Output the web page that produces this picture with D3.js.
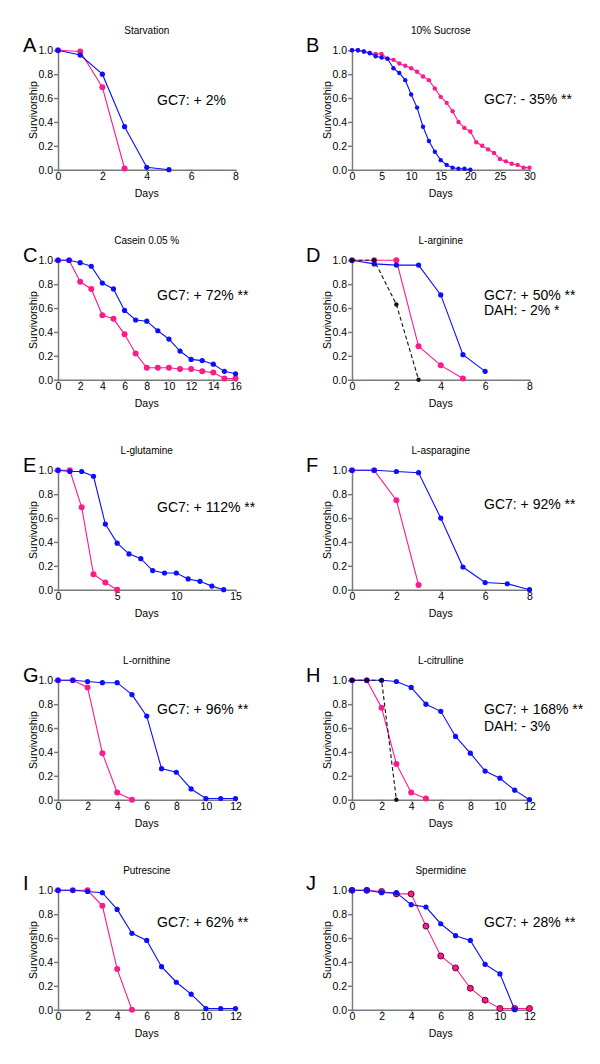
<!DOCTYPE html>
<html><head><meta charset="utf-8">
<script src="https://cdn.jsdelivr.net/npm/d3@7"></script>
<style>
body{margin:0;background:#fff;}
svg{display:block;font-family:Arial,"Liberation Sans",sans-serif;}
</style></head>
<body><svg id="c" width="600" height="1064"></svg>
<script>
// ---- data (survivorship per day, index = day) ----
const letters = ["A","B","C","D","E","F","G","H","I","J"];
const titles = ["Starvation","10% Sucrose","Casein 0.05 %","L-arginine","L-glutamine","L-asparagine","L-ornithine","L-citrulline","Putrescine","Spermidine"];
const xMax = [8,30,16,8,15,8,12,12,12,12];
const xTicks = [
  [0,2,4,6,8],[0,5,10,15,20,25,30],[0,2,4,6,8,10,12,14,16],[0,2,4,6,8],
  [0,5,10,15],[0,2,4,6,8],[0,2,4,6,8,10,12],[0,2,4,6,8,10,12],
  [0,2,4,6,8,10,12],[0,2,4,6,8,10,12]
];
const yTicks = [0,0.2,0.4,0.6,0.8,1.0];
const annotations = [
  ["GC7: + 2%"],["GC7: - 35% **"],["GC7: + 72% **"],["GC7: + 50% **","DAH: - 2% *"],
  ["GC7: + 112% **"],["GC7: + 92% **"],["GC7: + 96% **"],["GC7: + 168% **","DAH: - 3%"],
  ["GC7: + 62% **"],["GC7: + 28% **"]
];

const aPink = [1.0,0.99,0.69,0.01];
const aBlue = [1.0,0.96,0.80,0.36,0.02,0.0];

const bPink = [1.0,1.0,0.99,0.98,0.97,0.97,0.93,0.92,0.89,0.87,0.85,0.82,0.78,0.75,0.68,0.61,0.56,0.49,0.40,0.35,0.32,0.23,0.20,0.17,0.14,0.09,0.07,0.05,0.04,0.017,0.017];
const bBlue = [1.0,1.0,0.99,0.975,0.95,0.94,0.93,0.85,0.81,0.75,0.63,0.52,0.36,0.24,0.15,0.08,0.04,0.017,0.008,0.008,0.0];

const cPink = [1.0,1.0,0.82,0.76,0.54,0.51,0.38,0.22,0.10,0.10,0.10,0.09,0.09,0.07,0.06,0.01,0.01];
const cBlue = [1.0,1.0,0.98,0.95,0.81,0.76,0.58,0.50,0.49,0.41,0.34,0.24,0.17,0.16,0.13,0.07,0.05];

const dPink = [1.0,1.0,1.0,0.28,0.12,0.01];
const dBlue = [1.0,0.97,0.96,0.96,0.71,0.21,0.07];
const dBlack = [1.0,1.0,0.63,0.0];

const ePink = [1.0,1.0,0.69,0.13,0.06,0.0];
const eBlue = [1.0,0.99,0.99,0.95,0.55,0.39,0.30,0.26,0.16,0.14,0.14,0.09,0.07,0.03,0.0];

const fPink = [1.0,1.0,0.75,0.04];
const fBlue = [1.0,1.0,0.99,0.98,0.60,0.19,0.06,0.05,0.0];

const gPink = [1.0,1.0,0.94,0.39,0.06,0.0];
const gBlue = [1.0,1.0,0.99,0.98,0.98,0.88,0.70,0.26,0.23,0.09,0.01,0.01,0.01];

const hPink = [1.0,1.0,0.77,0.30,0.06,0.01];
const hBlue = [1.0,1.0,1.0,0.99,0.94,0.80,0.74,0.53,0.39,0.24,0.18,0.08,0.0];
const hBlack = [1.0,1.0,1.0,0.0];

const iPink = [1.0,1.0,1.0,0.87,0.34,0.0];
const iBlue = [1.0,1.0,0.99,0.98,0.84,0.64,0.58,0.36,0.23,0.13,0.01,0.01,0.01];

const jPink = [1.0,1.0,0.99,0.97,0.97,0.70,0.45,0.35,0.18,0.08,0.01,0.01,0.01];
const jBlue = [1.0,1.0,0.98,0.98,0.88,0.86,0.72,0.62,0.58,0.38,0.30,0.0];

const pinkSeries = [aPink,bPink,cPink,dPink,ePink,fPink,gPink,hPink,iPink,jPink];
const blueSeries = [aBlue,bBlue,cBlue,dBlue,eBlue,fBlue,gBlue,hBlue,iBlue,jBlue];
const blackSeries = [null,null,null,dBlack,null,null,null,hBlack,null,null];

// ---- layout ----
const PINK = "#ff1a8c", BLUE = "#0d0dff", BLACK = "#111";
const svg = d3.select("#c");
const rowY = [0,210,420,630,840];
const colX = [58,352];
const plotW = 177.5, plotTop = 50.3, plotBot = 169.7;
const annBase = [105,104,90,90,92,89,84,84,87,87];

letters.forEach((L,i)=>{
  const col = i%2, row = Math.floor(i/2);
  const ox = colX[col], oy = rowY[row];
  const g = svg.append("g");
  const x = d3.scaleLinear().domain([0,xMax[i]]).range([ox, ox+plotW]);
  const y = d3.scaleLinear().domain([0,1]).range([oy+plotBot, oy+plotTop]);

  // panel letter
  g.append("text").attr("x", col===0 ? 23 : 306).attr("y", oy + (row===4 ? 49.5 : 52))
    .attr("font-size", 20).attr("fill","#000").text(L);
  // title
  g.append("text").attr("x", ox+plotW/2).attr("y", oy+34).attr("text-anchor","middle")
    .attr("font-size",10).attr("fill","#000").text(titles[i]);
  // axis titles
  g.append("text").attr("x", ox+plotW/2).attr("y", oy+197).attr("text-anchor","middle")
    .attr("font-size",10.5).attr("fill","#000").text("Days");
  g.append("text").attr("transform",`translate(${ox-21},${oy+110}) rotate(-90)`)
    .attr("text-anchor","middle").attr("font-size",10.5).attr("fill","#000").text("Survivorship");

  // axes
  const ya = g.append("g").attr("transform",`translate(${ox},0)`)
    .call(d3.axisLeft(y).tickValues(yTicks).tickFormat(d3.format(".1f")).tickSize(4).tickSizeOuter(0).tickPadding(1));
  const xa = g.append("g").attr("transform",`translate(0,${oy+plotBot})`)
    .call(d3.axisBottom(x).tickValues(xTicks[i]).tickSize(2).tickSizeOuter(0).tickPadding(1));
  [ya,xa].forEach(a=>{
    a.selectAll("path,line").attr("stroke","#7a7a7a").attr("stroke-width",1.5);
    a.selectAll("text").attr("font-size",10.5).attr("fill","#000").attr("font-family","Arial,'Liberation Sans',sans-serif");
  });

  const line = d3.line().x((d,k)=>x(k)).y(d=>y(d));
  const small = (i===1);
  function drawSeries(vals, color, r, dashed, stroke){
    if(!vals) return;
    g.append("path").datum(vals).attr("d",line).attr("fill","none")
      .attr("stroke",color).attr("stroke-width",1.1)
      .attr("stroke-dasharray", dashed ? "4,2.5" : null);
    g.selectAll(null).data(vals).enter().append("circle")
      .attr("cx",(d,k)=>x(k)).attr("cy",d=>y(d)).attr("r",r)
      .attr("fill",color)
      .attr("stroke", stroke || "none").attr("stroke-width", stroke ? 0.9 : 0);
  }
  drawSeries(pinkSeries[i], PINK, small ? 2.2 : 3, false, i===9 ? "#4a0020" : null);
  drawSeries(blueSeries[i], BLUE, small ? 2.2 : 2.6, false, null);
  drawSeries(blackSeries[i], BLACK, 2.2, true, null);

  // annotations
  annotations[i].forEach((t,k)=>{
    g.append("text").attr("x", col===0 ? 157 : 484).attr("y", oy + annBase[i] + (k ? (i===3 ? 15 : 17) : 0))
      .attr("font-size",14).attr("fill","#000").text(t);
  });
});
</script>
</body></html>
